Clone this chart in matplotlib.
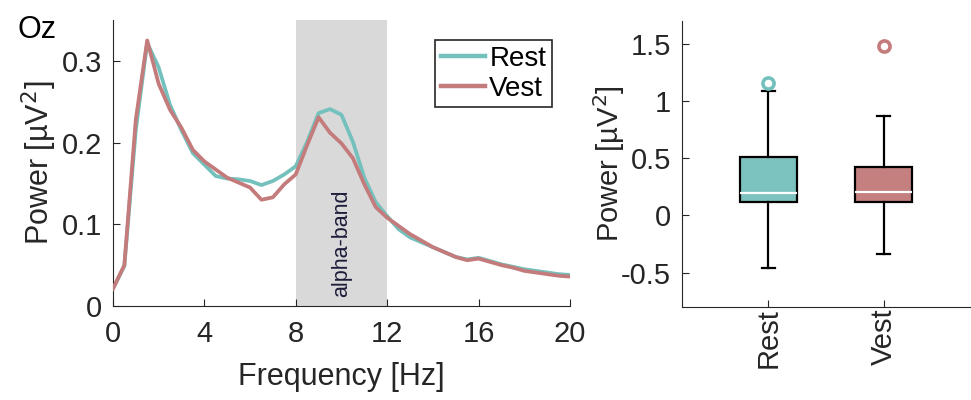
import numpy as np
import matplotlib
matplotlib.use("Agg")
import matplotlib.pyplot as plt

plt.rcParams['font.family'] = ['Liberation Sans', 'DejaVu Sans']

# spectrum, 0.5 Hz steps
freq = [0, 0.5, 1, 1.5, 2, 2.5, 3, 3.5, 4, 4.5, 5, 5.5, 6, 6.5, 7, 7.5,
        8, 8.5, 9, 9.5, 10, 10.5, 11, 11.5, 12, 12.5, 13, 13.5, 14, 14.5,
        15, 15.5, 16, 16.5, 17, 17.5, 18, 18.5, 19, 19.5, 20]
rest = [0.021, 0.049, 0.215, 0.322, 0.292, 0.246, 0.215, 0.187, 0.173, 0.159,
        0.156, 0.155, 0.153, 0.148, 0.153, 0.161,
        0.171, 0.201, 0.236, 0.241, 0.234, 0.201, 0.157, 0.127, 0.110, 0.094,
        0.084, 0.078, 0.072, 0.066, 0.060, 0.057, 0.059, 0.055, 0.051, 0.048,
        0.045, 0.043, 0.041, 0.039, 0.038]
vest = [0.021, 0.050, 0.228, 0.325, 0.272, 0.240, 0.218, 0.191, 0.177, 0.167,
        0.157, 0.151, 0.145, 0.130, 0.133, 0.149,
        0.161, 0.197, 0.231, 0.212, 0.199, 0.181, 0.149, 0.121, 0.108, 0.098,
        0.088, 0.080, 0.072, 0.066, 0.060, 0.056, 0.058, 0.054, 0.050, 0.047,
        0.043, 0.041, 0.039, 0.037, 0.036]

# box stats: low whisker, q1, median, q3, high whisker, outliers
groups = ["Rest", "Vest"]
whislo = [-0.46, -0.34]
q1 = [0.12, 0.115]
med = [0.197, 0.206]
q3 = [0.507, 0.42]
whishi = [1.087, 0.87]
fliers = [[1.154], [1.484]]

teal_line = "#74c0bc"
red_line = "#c47b7b"
teal_box = "#7cc3bf"
red_box = "#c47f7f"
spine_c = "#262626"

fig = plt.figure(figsize=(9.71, 4.0), dpi=100)

# ---- spectrum panel ----
ax = fig.add_axes([0.1163, 0.235, 0.4707, 0.715])
ax.axvspan(8, 12, color="#d9d9d9", lw=0, zorder=0)
ax.plot(freq, rest, color=teal_line, lw=2.7, label="Rest", zorder=2)
ax.plot(freq, vest, color=red_line, lw=2.7, label="Vest", zorder=3)
ax.text(10, 0.011, "alpha-band", rotation=90, ha="center", va="bottom",
        fontsize=15.5, color="#1c1c3a")
ax.set_xlim(0, 20)
ax.set_ylim(0, 0.35)
ax.set_xticks([0, 4, 8, 12, 16, 20])
ax.set_yticks([0, 0.1, 0.2, 0.3])
ax.set_yticklabels(["0", "0.1", "0.2", "0.3"])
ax.set_xlabel("Frequency [Hz]", fontsize=22, color="#262626", labelpad=10)
ax.set_ylabel("Power [µV$^2$]", fontsize=22, color="#262626", labelpad=2)
ax.tick_params(direction="in", labelsize=21, colors=spine_c, length=5)
ax.tick_params(axis="x", pad=10)
ax.tick_params(axis="y", pad=8)
for s in ["top", "right"]:
    ax.spines[s].set_visible(False)
for s in ["left", "bottom"]:
    ax.spines[s].set_color(spine_c)
leg = ax.legend(loc="upper left", bbox_to_anchor=(0.705, 0.93), fontsize=20,
                handlelength=1.6, handletextpad=0.15, borderpad=0.2,
                labelspacing=0.15, fancybox=False, framealpha=1,
                edgecolor="#262626", borderaxespad=0)
leg.get_frame().set_linewidth(1.2)
for line in leg.get_lines():
    line.set_linewidth(3.2)
fig.text(0.018, 0.905, "Oz", fontsize=22, color="black")

# ---- box panel ----
bx = fig.add_axes([0.7025, 0.2325, 0.2975, 0.715])
stats = []
for i, g in enumerate(groups):
    stats.append({"label": g, "whislo": whislo[i], "q1": q1[i], "med": med[i],
                  "q3": q3[i], "whishi": whishi[i], "fliers": fliers[i]})
bp = bx.bxp(stats, positions=[1, 2], widths=0.5, patch_artist=True,
            capwidths=0.12,
            boxprops=dict(edgecolor="black", linewidth=1.6),
            whiskerprops=dict(color="black", linewidth=1.6),
            capprops=dict(color="black", linewidth=1.6),
            medianprops=dict(color="white", linewidth=1.6))
for patch, c in zip(bp["boxes"], [teal_box, red_box]):
    patch.set_facecolor(c)
for fl, c in zip(bp["fliers"], [teal_line, red_line]):
    fl.set_marker("o")
    fl.set_markerfacecolor("white")
    fl.set_markeredgecolor(c)
    fl.set_markersize(8)
    fl.set_markeredgewidth(2.6)
bx.set_xlim(0.25, 2.76)
bx.set_ylim(-0.8, 1.7)
bx.set_yticks([-0.5, 0, 0.5, 1, 1.5])
bx.set_yticklabels(["-0.5", "0", "0.5", "1", "1.5"])
bx.set_xticks([1, 2])
bx.set_xticklabels(groups, rotation=90)
bx.set_ylabel("Power [µV$^2$]", fontsize=21, color="#262626", labelpad=-4)
bx.tick_params(direction="in", labelsize=21, colors=spine_c, length=5)
bx.tick_params(axis="x", pad=1)
bx.tick_params(axis="y", pad=8)
for s in ["top", "right"]:
    bx.spines[s].set_visible(False)
for s in ["left", "bottom"]:
    bx.spines[s].set_color(spine_c)

fig.savefig("out.png", dpi=100)
